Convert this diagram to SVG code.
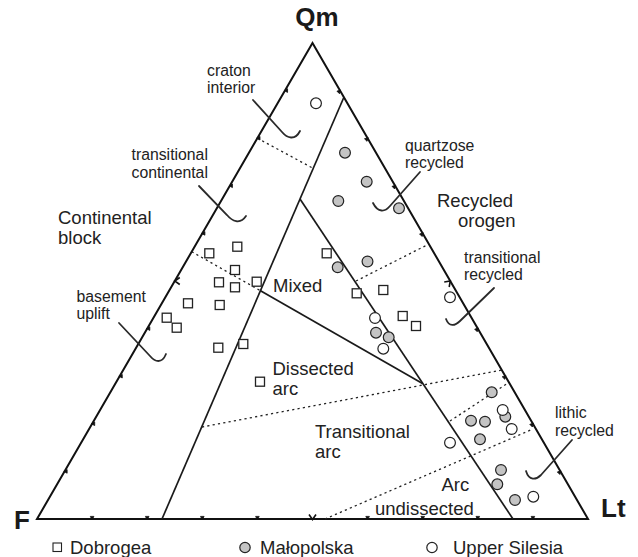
<svg xmlns="http://www.w3.org/2000/svg" width="638" height="557" viewBox="0 0 638 557">
<defs>
<style>
.frame{fill:none;stroke:#111;stroke-width:2;stroke-linejoin:miter}
.bnd{fill:none;stroke:#1a1a1a;stroke-width:1.7}
.dot{fill:none;stroke:#222;stroke-width:1.3;stroke-dasharray:2.2,3.2}
.call{fill:none;stroke:#2a2a2a;stroke-width:1.8;stroke-linecap:round}
.tk{fill:none;stroke:#111;stroke-width:1.6}
.tks{fill:#111;stroke:#111;stroke-width:0.8}
.sq{fill:#fff;stroke:#222;stroke-width:1.3}
.gc{fill:#c4c4c4;stroke:#222;stroke-width:1.2}
.oc{fill:#fff;stroke:#222;stroke-width:1.2}
.ax{font-family:"Liberation Sans",Arial,sans-serif;font-weight:bold;font-size:26px;fill:#1a1a1a}
.reg{font-family:"Liberation Sans",Arial,sans-serif;font-size:18.5px;fill:#222}
.lab{font-family:"Liberation Sans",Arial,sans-serif;font-size:15.8px;fill:#222}
</style>
<path id="chev" d="M-3.5,-5 L0,0 L3.5,-5"/>
<path id="tick" d="M-1.8,-2.6 L0,0.8 L1.8,-2.6 Z"/>
</defs>

<g id="connectors">
<polygon class="frame" points="312.5,43 37,519 588,519"/>
<line class="bnd" x1="344" y1="97" x2="162" y2="519"/>
<line class="bnd" x1="300" y1="199" x2="513" y2="519"/>
<line class="bnd" x1="260.5" y1="290.7" x2="422.5" y2="383.5"/>
<line class="dot" x1="257.4" y1="138.2" x2="312.5" y2="168"/>
<line class="dot" x1="191.7" y1="251.7" x2="260.5" y2="290.7"/>
<line class="dot" x1="356" y1="281" x2="427" y2="245"/>
<line class="dot" x1="202" y1="427" x2="502" y2="370"/>
<line class="dot" x1="450" y1="421" x2="508" y2="383"/>
<line class="dot" x1="325" y1="519" x2="533" y2="429"/>
<path class="call" d="M253,100 L282,132 C287,138 295,141 300,131"/>
<path class="call" d="M199,186 L227,215 C232,221 240,225 246,216"/>
<path class="call" d="M119,323 L150,356 C155,362 162,364 166,354"/>
<path class="call" d="M420,172 L390,206 C385,212 378,213 373,203"/>
<path class="call" d="M494,288 L460,321 C455,326 449,327 446,319"/>
<path class="call" d="M572,440 L541,475 C536,480 529,481 526,471"/>
</g>

<g id="ticks">
<use href="#tick" class="tks" transform="translate(64.55,471.4) rotate(90)"/>
<use href="#tick" class="tks" transform="translate(92.1,423.8) rotate(90)"/>
<use href="#tick" class="tks" transform="translate(119.65,376.2) rotate(90)"/>
<use href="#tick" class="tks" transform="translate(147.2,328.6) rotate(90)"/>
<use href="#chev" class="tk" transform="translate(174.75,281) rotate(90)"/>
<use href="#tick" class="tks" transform="translate(202.3,233.4) rotate(90)"/>
<use href="#tick" class="tks" transform="translate(229.85,185.8) rotate(90)"/>
<use href="#tick" class="tks" transform="translate(257.4,138.2) rotate(90)"/>
<use href="#tick" class="tks" transform="translate(284.95,90.6) rotate(90)"/>
<use href="#tick" class="tks" transform="translate(340.05,90.6) rotate(-135)"/>
<use href="#tick" class="tks" transform="translate(367.6,138.2) rotate(-135)"/>
<use href="#tick" class="tks" transform="translate(395.15,185.8) rotate(-135)"/>
<use href="#tick" class="tks" transform="translate(422.7,233.4) rotate(-135)"/>
<use href="#chev" class="tk" transform="translate(450.25,281) rotate(-135)"/>
<use href="#tick" class="tks" transform="translate(477.8,328.6) rotate(-135)"/>
<use href="#tick" class="tks" transform="translate(505.35,376.2) rotate(-135)"/>
<use href="#tick" class="tks" transform="translate(532.9,423.8) rotate(-135)"/>
<use href="#tick" class="tks" transform="translate(560.45,471.4) rotate(-135)"/>
<use href="#tick" class="tks" transform="translate(92.1,519)"/>
<use href="#tick" class="tks" transform="translate(147.2,519)"/>
<use href="#tick" class="tks" transform="translate(202.3,519)"/>
<use href="#tick" class="tks" transform="translate(257.4,519)"/>
<use href="#chev" class="tk" transform="translate(312.5,519.5)"/>
<use href="#tick" class="tks" transform="translate(367.6,519)"/>
<use href="#tick" class="tks" transform="translate(422.7,519)"/>
<use href="#tick" class="tks" transform="translate(477.8,519)"/>
<use href="#tick" class="tks" transform="translate(532.9,519)"/>
</g>

<g id="apex-labels">
<text class="ax" x="317" y="26" text-anchor="middle">Qm</text>
<text class="ax" x="14" y="529">F</text>
<text class="ax" x="601" y="517">Lt</text>
</g>

<g id="field-continental-block"><text class="reg" x="58" y="224">Continental</text><text class="reg" x="58" y="244">block</text></g>
<g id="field-recycled-orogen"><text class="reg" x="437" y="207">Recycled</text><text class="reg" x="458" y="227">orogen</text></g>
<g id="field-mixed"><text class="reg" x="273" y="292">Mixed</text></g>
<g id="field-dissected-arc"><text class="reg" x="272.5" y="375">Dissected</text><text class="reg" x="272.5" y="395">arc</text></g>
<g id="field-transitional-arc"><text class="reg" x="315" y="438">Transitional</text><text class="reg" x="315" y="458">arc</text></g>
<g id="field-arc-undissected"><text class="reg" x="441.5" y="491">Arc</text><text class="reg" x="375" y="515">undissected</text></g>

<g id="sub-craton-interior"><text class="lab" x="207" y="76">craton</text><text class="lab" x="207" y="93">interior</text></g>
<g id="sub-transitional-continental"><text class="lab" x="131.5" y="160">transitional</text><text class="lab" x="131.5" y="178">continental</text></g>
<g id="sub-basement-uplift"><text class="lab" x="76.5" y="302">basement</text><text class="lab" x="76.5" y="319">uplift</text></g>
<g id="sub-quartzose-recycled"><text class="lab" x="405" y="151">quartzose</text><text class="lab" x="405" y="168">recycled</text></g>
<g id="sub-transitional-recycled"><text class="lab" x="464" y="263">transitional</text><text class="lab" x="464" y="280">recycled</text></g>
<g id="sub-lithic-recycled"><text class="lab" x="555" y="418">lithic</text><text class="lab" x="555" y="436">recycled</text></g>

<g id="dobrogea-points">
<rect class="sq" x="232.8" y="242.2" width="9" height="9"/>
<rect class="sq" x="204.8" y="248.8" width="9" height="9"/>
<rect class="sq" x="230.5" y="265.5" width="9" height="9"/>
<rect class="sq" x="214.5" y="277.8" width="9" height="9"/>
<rect class="sq" x="230.5" y="282.8" width="9" height="9"/>
<rect class="sq" x="252.2" y="277.2" width="9" height="9"/>
<rect class="sq" x="183.5" y="298.8" width="9" height="9"/>
<rect class="sq" x="215.2" y="300.5" width="9" height="9"/>
<rect class="sq" x="162.2" y="313.2" width="9" height="9"/>
<rect class="sq" x="172.2" y="323.2" width="9" height="9"/>
<rect class="sq" x="213.8" y="343.2" width="9" height="9"/>
<rect class="sq" x="238.8" y="339.5" width="9" height="9"/>
<rect class="sq" x="255.5" y="377.2" width="9" height="9"/>
<rect class="sq" x="322.2" y="248.8" width="9" height="9"/>
<rect class="sq" x="352.2" y="288.8" width="9" height="9"/>
<rect class="sq" x="378.8" y="285.5" width="9" height="9"/>
<rect class="sq" x="398.2" y="311.5" width="9" height="9"/>
<rect class="sq" x="411.5" y="321.5" width="9" height="9"/>
</g>

<g id="malopolska-points">
<circle class="gc" cx="345" cy="152.7" r="5.4"/>
<circle class="gc" cx="366.7" cy="181.7" r="5.4"/>
<circle class="gc" cx="338.3" cy="201" r="5.4"/>
<circle class="gc" cx="399" cy="208.3" r="5.4"/>
<circle class="gc" cx="337.7" cy="267.3" r="5.4"/>
<circle class="gc" cx="367.5" cy="261.5" r="5.4"/>
<circle class="gc" cx="376" cy="332.7" r="5.4"/>
<circle class="gc" cx="388.7" cy="337.3" r="5.4"/>
<circle class="gc" cx="491.7" cy="392.3" r="5.4"/>
<circle class="gc" cx="505.3" cy="416.7" r="5.4"/>
<circle class="gc" cx="471" cy="420.7" r="5.4"/>
<circle class="gc" cx="485" cy="421.7" r="5.4"/>
<circle class="gc" cx="480" cy="439.3" r="5.4"/>
<circle class="gc" cx="501" cy="470" r="5.4"/>
<circle class="gc" cx="497.3" cy="484.3" r="5.4"/>
<circle class="gc" cx="515" cy="500" r="5.4"/>
</g>

<g id="upper-silesia-points">
<circle class="oc" cx="316" cy="103.3" r="5.4"/>
<circle class="oc" cx="375" cy="318" r="5.4"/>
<circle class="oc" cx="383.3" cy="348.7" r="5.4"/>
<circle class="oc" cx="450" cy="297.3" r="5.4"/>
<circle class="oc" cx="502.7" cy="410" r="5.4"/>
<circle class="oc" cx="511.7" cy="429" r="5.4"/>
<circle class="oc" cx="450" cy="442.7" r="5.4"/>
<circle class="oc" cx="533.3" cy="496.7" r="5.4"/>
</g>

<g id="legend">
<rect class="sq" x="53" y="543" width="8.5" height="8.5" style="stroke-width:1.1"/>
<text class="reg" x="70" y="554">Dobrogea</text>
<circle class="gc" cx="245" cy="547.5" r="5.2"/>
<text class="reg" x="260" y="554">Małopolska</text>
<circle class="oc" cx="432" cy="547.5" r="5.2"/>
<text class="reg" x="453" y="554">Upper Silesia</text>
</g>
</svg>
